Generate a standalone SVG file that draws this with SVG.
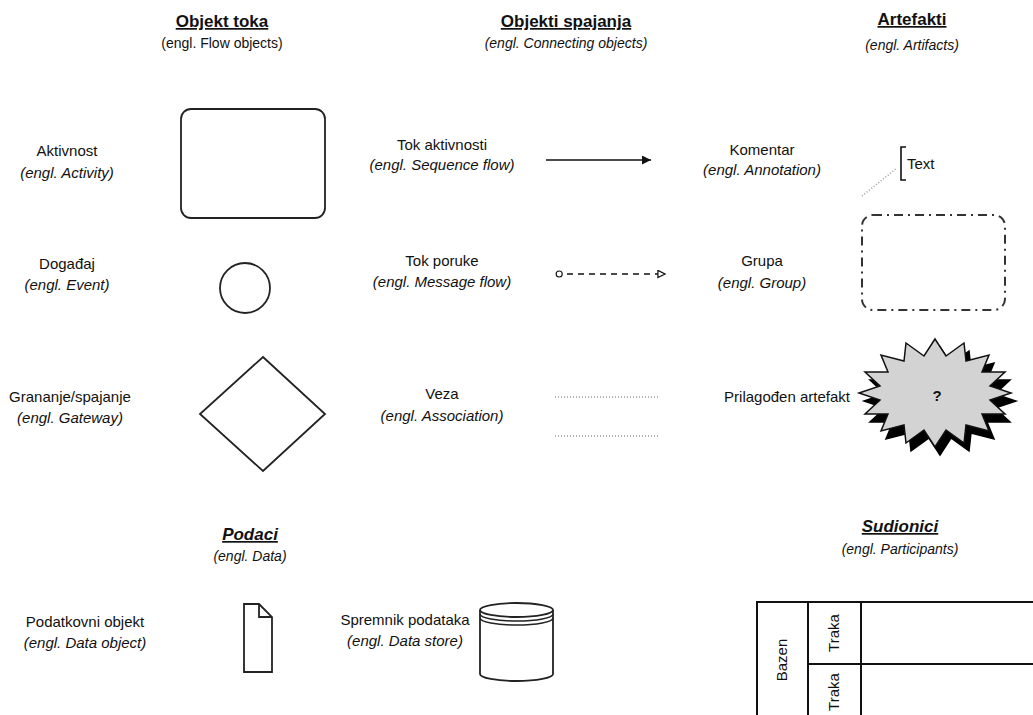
<svg xmlns="http://www.w3.org/2000/svg" width="1033" height="715" viewBox="0 0 1033 715">
<style>
text{font-family:"Liberation Sans",Arial,sans-serif;fill:#111;font-size:15px;text-anchor:middle}
.title{font-weight:bold;font-size:17px;text-decoration:underline}
.ti{font-weight:bold;font-style:italic;font-size:17px;text-decoration:underline}
.it{font-style:italic}
.sub{font-size:14px}
.shape{fill:#fff;stroke:#222;stroke-width:1.8}
.dot{stroke:#999;stroke-width:1.5;stroke-dasharray:1 2;fill:none}
</style>
<defs>
<marker id="arrFill" viewBox="0 0 10 10" refX="10" refY="5" markerWidth="9" markerHeight="9" markerUnits="userSpaceOnUse" orient="auto"><path d="M0,0 L10,5 L0,10 z" fill="#111"/></marker>
<marker id="arrOpen" viewBox="0 0 10 10" refX="10" refY="5" markerWidth="9" markerHeight="9" markerUnits="userSpaceOnUse" orient="auto"><path d="M1,1 L9,5 L1,9 z" fill="#fff" stroke="#111" stroke-width="1.4"/></marker>
<marker id="circStart" viewBox="0 0 10 10" refX="1" refY="5" markerWidth="8" markerHeight="8" markerUnits="userSpaceOnUse" orient="auto"><circle cx="5" cy="5" r="3.8" fill="#fff" stroke="#111" stroke-width="1.4"/></marker>
<polygon id="star" points="1011,393 990,400 1005,414 982,414 989,431 966,425 964,443 946,430 935,447 924,430 906,443 904,425 881,431 888,414 865,414 880,400 859,393 880,386 865,372 888,372 881,355 904,361 906,343 924,356 935,339 946,356 964,343 966,361 989,355 982,372 1005,372 990,386"/>
</defs>

<g id="headers">
<text class="title" x="222" y="27">Objekt toka</text>
<text class="sub" x="222" y="48">(engl. Flow objects)</text>
<text class="title" x="566" y="27">Objekti spajanja</text>
<text class="it sub" x="566" y="48">(engl. Connecting objects)</text>
<text class="title" x="912" y="25">Artefakti</text>
<text class="it sub" x="912" y="50">(engl. Artifacts)</text>
<text class="ti" x="250" y="540">Podaci</text>
<text class="it sub" x="250" y="561">(engl. Data)</text>
<text class="ti" x="900" y="532">Sudionici</text>
<text class="it sub" x="900" y="554">(engl. Participants)</text>
</g>

<g id="activity">
<text x="67" y="156">Aktivnost</text>
<text class="it" x="67" y="178">(engl. Activity)</text>
<rect class="shape" x="181" y="109" width="144" height="109" rx="10"/>
</g>
<g id="event">
<text x="67" y="269">Događaj</text>
<text class="it" x="67" y="290">(engl. Event)</text>
<circle class="shape" cx="245" cy="288" r="25"/>
</g>
<g id="gateway">
<text x="70" y="402">Grananje/spajanje</text>
<text class="it" x="70" y="423">(engl. Gateway)</text>
<polygon class="shape" points="263,357 325,414 263,471 200,414"/>
</g>

<g id="sequence-flow">
<text x="442" y="150">Tok aktivnosti</text>
<text class="it" x="442" y="170">(engl. Sequence flow)</text>
</g>
<g id="message-flow">
<text x="442" y="266">Tok poruke</text>
<text class="it" x="442" y="287">(engl. Message flow)</text>
</g>
<g id="association">
<text x="442" y="399">Veza</text>
<text class="it" x="442" y="421">(engl. Association)</text>
</g>

<g id="connectors">
<line x1="546" y1="160" x2="651" y2="160" stroke="#111" stroke-width="1.6" marker-end="url(#arrFill)"/>
<line x1="556" y1="274" x2="666" y2="274" stroke="#111" stroke-width="1.4" stroke-dasharray="6 5" marker-start="url(#circStart)" marker-end="url(#arrOpen)"/>
<line class="dot" x1="555" y1="397" x2="660" y2="397"/>
<line class="dot" x1="555" y1="436" x2="660" y2="436"/>
<line class="dot" x1="862" y1="196" x2="897" y2="168"/>
</g>

<g id="annotation">
<text x="762" y="155">Komentar</text>
<text class="it" x="762" y="175">(engl. Annotation)</text>
<path d="M906,147 H901 V180 H906" fill="none" stroke="#111" stroke-width="1.6"/>
<text x="907" y="169" font-size="10" style="text-anchor:start">Text</text>
</g>
<g id="group">
<text x="762" y="266">Grupa</text>
<text class="it" x="762" y="288">(engl. Group)</text>
<rect x="862" y="215" width="143" height="95" rx="11" fill="none" stroke="#333" stroke-width="2" stroke-dasharray="9 5 2 5"/>
</g>
<g id="custom-artifact">
<text x="850" y="402" style="text-anchor:end">Prilagođen artefakt</text>
<use href="#star" transform="translate(5,8)" fill="#000" stroke="#000" stroke-width="1.5"/>
<use href="#star" fill="#d3d3d3" stroke="#111" stroke-width="1.5"/>
<text x="937" y="401" font-weight="bold" font-size="13">?</text>
</g>

<g id="data-object">
<text x="85" y="627">Podatkovni objekt</text>
<text class="it" x="85" y="648">(engl. Data object)</text>
<path class="shape" d="M244,604 H259 L272,617 V672 H244 Z"/>
<path d="M259,604 V617 H272" fill="none" stroke="#222" stroke-width="1.8"/>
</g>
<g id="data-store">
<text x="405" y="625">Spremnik podataka</text>
<text class="it" x="405" y="646">(engl. Data store)</text>
<path class="shape" d="M480,610 V674 A36.5,7 0 0 0 553,674 V610"/>
<ellipse class="shape" cx="516.5" cy="610" rx="36.5" ry="7"/>
<path d="M480,614 A36.5,7 0 0 0 553,614 M480,618 A36.5,7 0 0 0 553,618" fill="none" stroke="#222" stroke-width="1.5"/>
</g>

<g id="pool">
<path d="M757,720 V602 H1040 M808,602 V720 M861,602 V720 M808,664 H1040" fill="none" stroke="#111" stroke-width="2"/>
<text transform="translate(787,660) rotate(-90)" font-size="13">Bazen</text>
<text transform="translate(839,633) rotate(-90)" font-size="13">Traka</text>
<text transform="translate(839,692) rotate(-90)" font-size="13">Traka</text>
</g>
</svg>
